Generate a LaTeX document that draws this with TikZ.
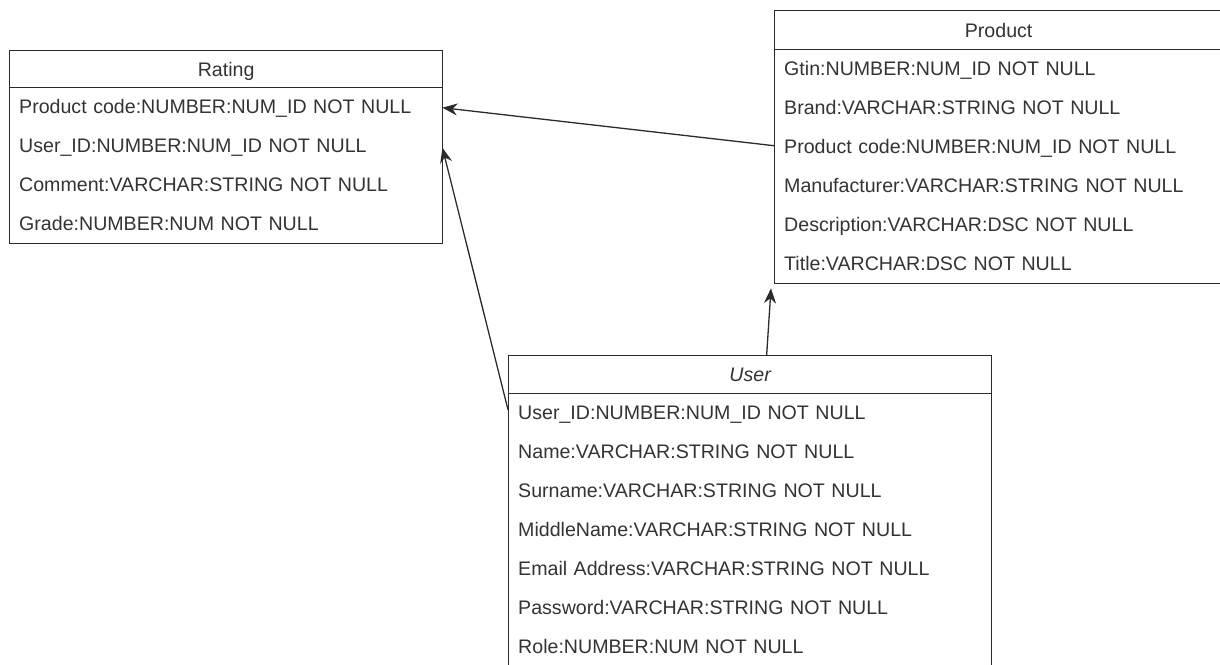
\documentclass[tikz,border=0pt]{standalone}
\usepackage{fontspec}
\setmainfont{Liberation Sans}
\usetikzlibrary{arrows.meta,calc}
\definecolor{ink}{HTML}{333333}
\definecolor{edge}{HTML}{2B2B2B}
\tikzset{
  hdr/.style={draw=edge, line width=1.3pt, anchor=north west, inner sep=0pt,
    minimum height=#1, text height=14pt, text depth=0pt,
    text=ink, font=\fontsize{19.6}{23}\selectfont},
  body/.style={draw=edge, line width=1.3pt, anchor=north west, inner sep=0pt},
  field/.style={anchor=north west, inner xsep=10pt, inner ysep=0pt, minimum height=39pt,
    text height=14pt, text depth=0pt,
    text width=#1, align=left, text=ink, font=\fontsize{19.6}{23}\selectfont},
  link/.style={draw=edge, line width=1.3pt, -{Stealth[length=15pt,width=12pt]}},
}
\begin{document}
\begin{tikzpicture}[x=1pt,y=-1pt]
\useasboundingbox (0,0) rectangle (1220,664);

% Rating entity
\node[hdr=37pt, minimum width=433pt] (rating) at (9,50) {Rating};
\node[body, minimum width=433pt, minimum height=156pt] (ratingbody) at (9,87) {};
\node[field=413pt] (r1) at (9,87)  {Product code:NUMBER:NUM\_ID NOT NULL};
\node[field=413pt] (r2) at (9,126) {User\_ID:NUMBER:NUM\_ID NOT NULL};
\node[field=413pt] (r3) at (9,165) {Comment:VARCHAR:STRING NOT NULL};
\node[field=413pt] (r4) at (9,204) {Grade:NUMBER:NUM NOT NULL};

% Product entity
\node[hdr=39pt, minimum width=448pt] (product) at (774,10) {Product};
\node[body, minimum width=448pt, minimum height=234pt] (productbody) at (774,49) {};
\node[field=428pt] (p1) at (774,49)  {Gtin:NUMBER:NUM\_ID NOT NULL};
\node[field=428pt] (p2) at (774,88)  {Brand:VARCHAR:STRING NOT NULL};
\node[field=428pt] (p3) at (774,127) {Product code:NUMBER:NUM\_ID NOT NULL};
\node[field=428pt] (p4) at (774,166) {Manufacturer:VARCHAR:STRING NOT NULL};
\node[field=428pt] (p5) at (774,205) {Description:VARCHAR:DSC NOT NULL};
\node[field=428pt] (p6) at (774,244) {Title:VARCHAR:DSC NOT NULL};

% User entity
\node[hdr=38pt, minimum width=483pt, font=\fontsize{19.6}{23}\selectfont\itshape] (user) at (508,355) {User};
\node[body, minimum width=483pt, minimum height=280pt] (userbody) at (508,393) {};
\node[field=463pt] (u1) at (508,393) {User\_ID:NUMBER:NUM\_ID NOT NULL};
\node[field=463pt] (u2) at (508,432) {Name:VARCHAR:STRING NOT NULL};
\node[field=463pt] (u3) at (508,471) {Surname:VARCHAR:STRING NOT NULL};
\node[field=463pt] (u4) at (508,510) {MiddleName:VARCHAR:STRING NOT NULL};
\node[field=463pt] (u5) at (508,549) {Email Address:VARCHAR:STRING NOT NULL};
\node[field=463pt] (u6) at (508,588) {Password:VARCHAR:STRING NOT NULL};
\node[field=463pt] (u7) at (508,627) {Role:NUMBER:NUM NOT NULL};

% Connectors
\coordinate (utop) at ($(user.north)+(16.5,0)$);
\coordinate (pbot) at ($(productbody.south west)+(-3,4)$);
\draw[link] ($(p3.west)+(0,-1)$) -- ($(r1.east)+(0,1)$);
\draw[link] ($(u1.west)+(0,-3)$) -- ($(r2.east)+(0,2)$);
\draw[link] (utop) -- (pbot);
\end{tikzpicture}
\end{document}
